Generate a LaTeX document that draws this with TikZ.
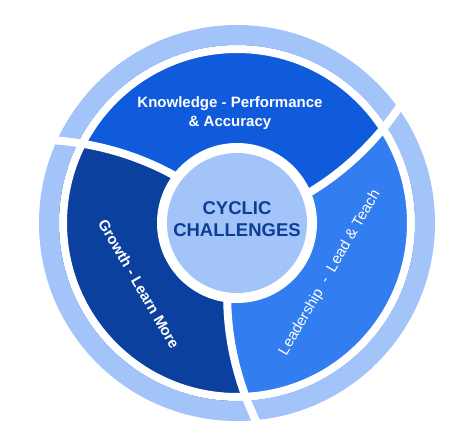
\documentclass[tikz,border=0pt]{standalone}
\usepackage{fontspec}
\setmainfont{Liberation Sans}
\definecolor{ringblue}{HTML}{A3C4F8}
\definecolor{knowblue}{HTML}{0F5BDC}
\definecolor{growblue}{HTML}{0B409E}
\definecolor{leadblue}{HTML}{327DF0}
\definecolor{hubtext}{HTML}{0C3E97}
\begin{document}
\begin{tikzpicture}[
  x=1pt, y=1pt,
  seglabel/.style={text=white, align=center, font=\bfseries\fontsize{15}{19.5}\selectfont},
  hublabel/.style={text=hubtext, align=center, font=\bfseries\fontsize{18.5}{22}\selectfont},
  gap/.style={white, line width=8pt},
  band/.style={ringblue, line width=20pt}
]
\useasboundingbox (-237,-216) rectangle (224,223);
% three segments, bounded by the spiral dividers
\foreach \base/\col in {23/knowblue, 143/growblue, 263/leadblue}
  \fill[\col] (0,0) -- plot[domain=0:185, samples=40] ({\base+0.105*(\x-80)}:\x)
    arc[start angle={\base+11.025}, delta angle=120, radius=185]
    -- plot[domain=185:0, samples=40] ({\base+120+0.105*(\x-80)}:\x) -- cycle;
% outer band and the white gap inside it
\draw[gap] (0,0) circle (174);
\draw[band] (0,0) circle (188);
% hub
\fill[white] (0,0) circle (80);
\fill[ringblue] (0,0) circle (70);
% dividers, running on through the band
\foreach \base in {23,143,263}
  \draw[gap] plot[domain=76:206, samples=30] ({\base+0.105*(\x-80)}:\x);
% labels
\node[hublabel] (hub) at (0,3.5) {CYCLIC\\CHALLENGES};
\node[seglabel] (know) at (-7,110) {Knowledge - Performance\\\& Accuracy};
\node[seglabel, rotate=-60] (grow) at (-98,-61) {Growth - Learn More};
\node[seglabel, font=\fontsize{15}{18}\selectfont, rotate=60] (lead) at (93,-50) {Leadership\ \ -\ \ Lead \& Teach};
\end{tikzpicture}
\end{document}
